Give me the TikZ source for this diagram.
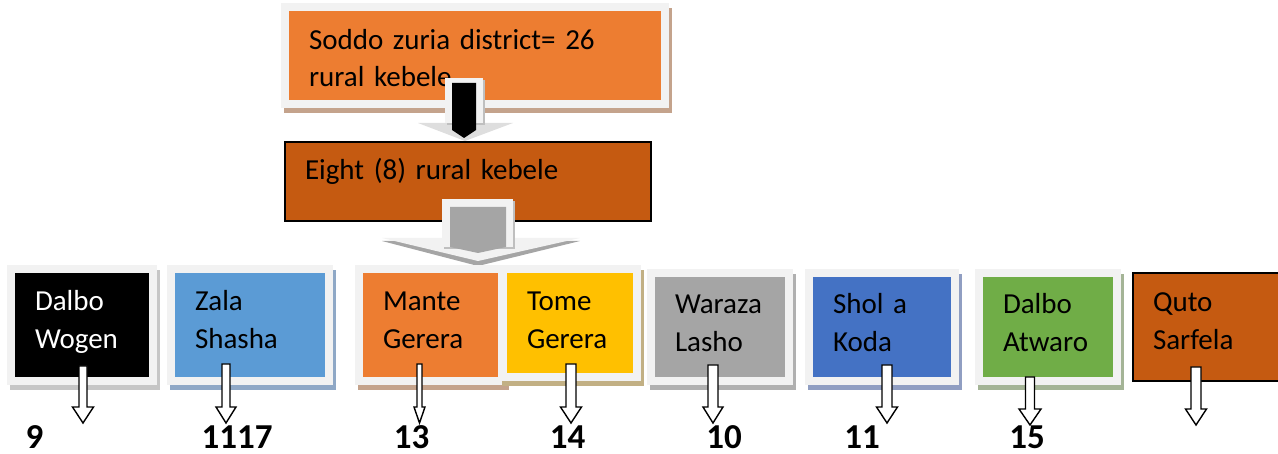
\documentclass[tikz,border=0pt]{standalone}
\usepackage{fontspec}
\setmainfont{Carlito}
\usetikzlibrary{calc}
\definecolor{framec}{HTML}{F2F2F2}
\definecolor{orangeA}{HTML}{ED7D31}
\definecolor{orangeB}{HTML}{C55A11}
\definecolor{blueA}{HTML}{5B9BD5}
\definecolor{blueB}{HTML}{4472C4}
\definecolor{yellowA}{HTML}{FFC000}
\definecolor{grayA}{HTML}{A5A5A5}
\definecolor{greenA}{HTML}{70AD47}
\definecolor{shOrange}{HTML}{C4A38C}
\definecolor{shBlack}{HTML}{C6C6C6}
\definecolor{shBlue}{HTML}{8FA8C6}
\definecolor{shYellow}{HTML}{C2B084}
\definecolor{shGray}{HTML}{B0B0B0}
\definecolor{shBlueB}{HTML}{909EC2}
\definecolor{shGreen}{HTML}{A4B496}
\definecolor{shArrow}{HTML}{BFBFBF}
\tikzset{
  framed/.style n args={3}{fill=#1, draw=framec, line width=8pt,
    preaction={fill=#2, draw=#2, line width=8pt, transform canvas={xshift=3pt,yshift=-5pt}},
    text height=22pt, text depth=#3, inner ysep=0pt, inner xsep=24pt, align=left,
    font=\fontsize{29}{38}\selectfont},
  plainbox/.style 2 args={fill=#1, draw=black, line width=1.5pt,
    text height=22pt, text depth=#2, inner ysep=0pt, inner xsep=20pt, align=left,
    font=\fontsize{29}{38}\selectfont},
  numlabel/.style={anchor=base, font=\fontsize{35}{40}\selectfont\bfseries, inner sep=0pt},
  hollow/.style={draw=black, fill=white, line width=1.4pt, line join=miter},
  arrowframe/.style={fill=framec, preaction={fill=shArrow, transform canvas={xshift=2pt,yshift=-2pt}}}
}
\newcommand\hollowarrow[5]{%
  \draw[hollow] ($(#1)+(-#3,0)$) -- ($(#2)+(-#3,-#5)$) -- ($(#2)+(-#4,-#5)$) -- (#2)
    -- ($(#2)+(#4,-#5)$) -- ($(#2)+(#3,-#5)$) -- ($(#1)+(#3,0)$) -- cycle;}
\begin{document}
\begin{tikzpicture}[x=1pt,y=-1pt]
\useasboundingbox (0,0) rectangle (1278,454);

% top box
\node[framed={orangeA}{shOrange}{33pt}, font=\fontsize{29}{37}\selectfont,
      minimum width=380pt, minimum height=97pt, text width=332pt] (top) at (475,55.5)
      {Soddo zuria district= 26\\rural kebele};

% black arrow between top and eight
\fill[black!13] (418,123) -- (513,123) -- (465,141) -- cycle;
\fill[arrowframe] (445,78) rectangle (483,123);
\fill[black] (452,83) -- (476,83) -- (476,130) -- (464,138) -- (452,130) -- cycle;

% eight box
\node[plainbox={orangeB}{25pt}, minimum width=366pt, minimum height=79pt, text width=326pt]
      (eight) at (468,181.5) {Eight (8) rural kebele};

% gray arrow below eight
\fill[grayA] (382,241) -- (580,241) -- (478,266) -- cycle;
\fill[framec] (382,238) -- (580,238) -- (478,261) -- cycle;
\fill[arrowframe] (442,199) rectangle (513,247);
\fill[grayA] (450,207) -- (506,207) -- (506,247) -- (478,253) -- (450,247) -- cycle;

% row boxes
\node[framed={black}{shBlack}{50pt}, text=white, minimum width=142pt, minimum height=112pt, text width=94pt]
      (b1) at (82,325) {Dalbo\\Wogen};
\node[framed={blueA}{shBlue}{50pt}, minimum width=158pt, minimum height=112pt, text width=110pt]
      (b2) at (250,325) {Zala\\Shasha};
\node[framed={orangeA}{shOrange}{50pt}, minimum width=143pt, minimum height=112pt, text width=95pt]
      (b3) at (430.5,325) {Mante\\Gerera};
\node[framed={yellowA}{shYellow}{46pt}, minimum width=134pt, minimum height=108pt, text width=86pt]
      (b4) at (570,323) {Tome\\Gerera};
\node[framed={grayA}{shGray}{48pt}, minimum width=138pt, minimum height=108pt, text width=90pt]
      (b5) at (720,327) {Waraza\\Lasho};
\node[framed={blueB}{shBlueB}{48pt}, minimum width=146pt, minimum height=108pt, text width=98pt]
      (b6) at (882,327) {Shol a\\Koda};
\node[framed={greenA}{shGreen}{48pt}, minimum width=138pt, minimum height=108pt, text width=90pt]
      (b7) at (1048,327) {Dalbo\\Atwaro};
\node[plainbox={orangeB}{52pt}, minimum width=157pt, minimum height=108pt, text width=117pt]
      (b8) at (1211.5,327) {Quto\\Sarfela};

% number labels
\node[numlabel] (n1) at (34.5,449) {9};
\node[numlabel] (n2) at (237,449) {1117};
\node[numlabel] (n3) at (411.5,449) {13};
\node[numlabel] (n4) at (567.5,449) {14};
\node[numlabel] (n5) at (724,449) {10};
\node[numlabel] (n6) at (862,449) {11};
\node[numlabel] (n7) at (1027,449) {15};

% hollow arrows
\coordinate (a1s) at (83,366);   \coordinate (a1t) at (83,423);
\coordinate (a2s) at (226,364);  \coordinate (a2t) at (226,423);
\coordinate (a3s) at (419.5,364);\coordinate (a3t) at (419.5,423);
\coordinate (a4s) at (571,364);  \coordinate (a4t) at (571,423);
\coordinate (a5s) at (713,365);  \coordinate (a5t) at (713,423);
\coordinate (a6s) at (887,365);  \coordinate (a6t) at (887,423);
\coordinate (a7s) at (1030,377); \coordinate (a7t) at (1030,425);
\coordinate (a8s) at (1196,367); \coordinate (a8t) at (1196,425);
\hollowarrow{a1s}{a1t}{4}{10.5}{16}
\hollowarrow{a2s}{a2t}{4}{10}{16}
\hollowarrow{a3s}{a3t}{2.5}{5.5}{16}
\hollowarrow{a4s}{a4t}{5}{10.5}{16}
\hollowarrow{a5s}{a5t}{5}{10}{16}
\hollowarrow{a6s}{a6t}{5}{10.5}{16}
\hollowarrow{a7s}{a7t}{4.5}{11}{16}
\hollowarrow{a8s}{a8t}{5}{10.5}{16}
\end{tikzpicture}
\end{document}
